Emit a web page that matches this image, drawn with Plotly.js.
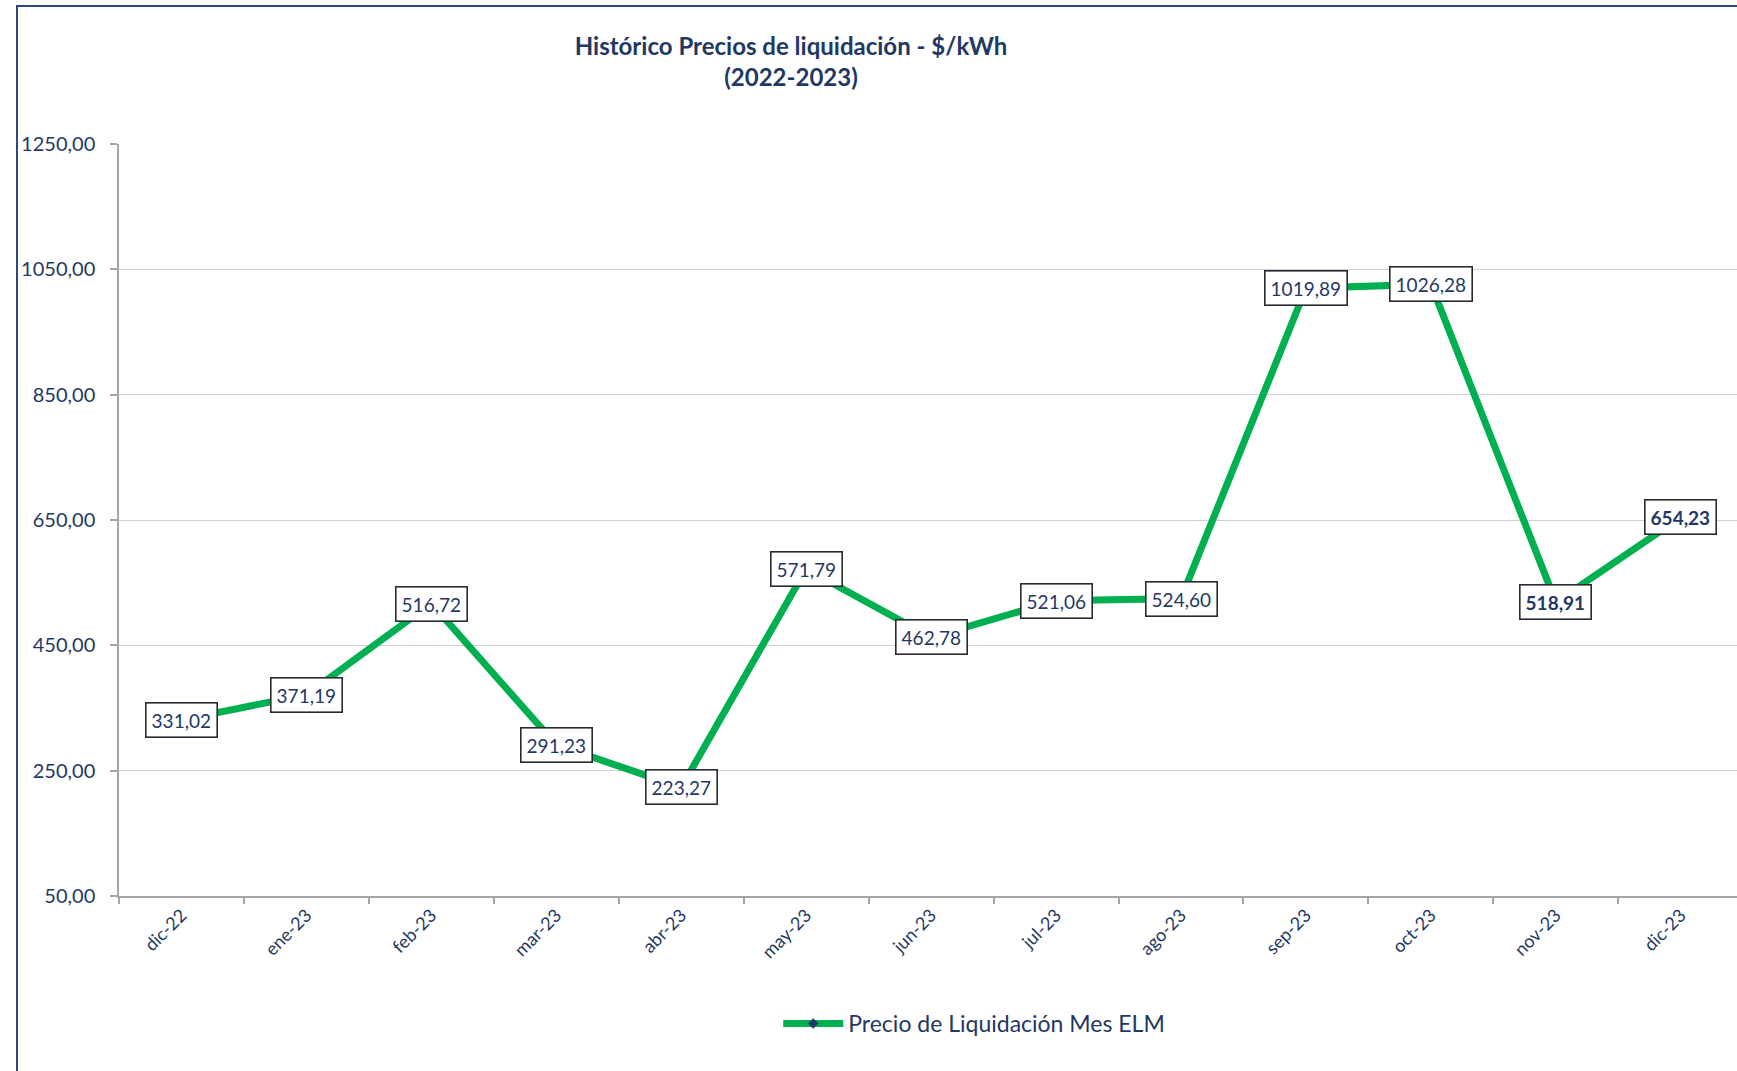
<!DOCTYPE html>
<html>
<head>
<meta charset="utf-8">
<script src="https://cdn.plot.ly/plotly-3.0.1.min.js"></script>
<style>
  html, body { margin: 0; padding: 0; background: #ffffff; }
  #wrap { position: relative; width: 1737px; height: 1071px; }
  #chart { position: absolute; left: 0; top: 0; width: 1737px; height: 1071px; }
  #frame { position: absolute; left: 16px; top: 5px; right: -4px; bottom: -4px;
           border-left: 2px solid #2E4A7D; border-top: 2px solid #2E4A7D; pointer-events: none; }
</style>
</head>
<body>
<div id="wrap">
  <div id="chart"></div>
  <div id="frame"></div>
</div>
<script>
const months = ["dic-22","ene-23","feb-23","mar-23","abr-23","may-23","jun-23",
                "jul-23","ago-23","sep-23","oct-23","nov-23","dic-23"];
const prices = [331.02, 371.19, 516.72, 291.23, 223.27, 571.79, 462.78,
                521.06, 524.60, 1019.89, 1026.28, 518.91, 654.23];
const boldLabels = [false,false,false,false,false,false,false,false,false,false,false,true,true];
const seriesName = "Precio de Liquidación Mes ELM";
const titleText = "Histórico Precios de liquidación - $/kWh<br>(2022-2023)";

const navy = "#1F3864";
const FONT = "Lato, 'Noto Sans', 'DejaVu Sans', sans-serif";

const trace = {
  x: months,
  y: prices,
  type: "scatter",
  mode: "lines+markers",
  name: seriesName,
  line: { color: "#00B050", width: 7 },
  marker: { symbol: "diamond", size: 8, color: navy },
  hoverinfo: "x+y"
};

const fmt = v => v.toFixed(2).replace(".", ",");
const annotations = months.map((m, i) => ({
  x: m, y: prices[i], xref: "x", yref: "y",
  text: boldLabels[i] ? "<b>" + fmt(prices[i]) + "</b>" : fmt(prices[i]),
  showarrow: false,
  xanchor: "center", yanchor: "middle",
  bgcolor: "#ffffff",
  bordercolor: "#262A33",
  borderwidth: 1.6,
  borderpad: 5,
  font: { family: FONT, size: 19, color: navy }
}));

const layout = {
  width: 1737, height: 1071,
  paper_bgcolor: "#ffffff", plot_bgcolor: "#ffffff",
  separators: ",.",
  margin: { l: 118.5, r: 0, t: 144, b: 175, pad: 0 },
  title: {
    text: titleText,
    font: { family: FONT, size: 24, color: navy, weight: "bold" },
    x: 791 / 1737, xref: "container", xanchor: "center",
    y: 1 - 55 / 1071, yref: "container", yanchor: "middle"
  },
  xaxis: {
    type: "category",
    range: [-0.5, 12.45],
    tickson: "boundaries",
    ticks: "outside", ticklen: 6, tickcolor: "#A6A6A6", tickwidth: 1.5,
    showline: true, linecolor: "#A6A6A6", linewidth: 1.5,
    showgrid: false, zeroline: false,
    tickangle: -45,
    tickfont: { family: FONT, size: 18, color: navy },
    fixedrange: true
  },
  yaxis: {
    range: [50, 1250],
    tick0: 50, dtick: 200,
    tickformat: ".2f",
    ticks: "outside", ticklen: 7, tickcolor: "#A6A6A6", tickwidth: 1.5,
    showline: true, linecolor: "#A6A6A6", linewidth: 1.5,
    showgrid: true, gridcolor: "#D0D0D0", gridwidth: 1.2,
    zeroline: false,
    ticklabelstandoff: 11,
    tickfont: { family: FONT, size: 20, color: navy },
    fixedrange: true
  },
  showlegend: true,
  legend: {
    orientation: "h",
    x: (974 - 118.5) / 1618.5, xanchor: "center",
    y: (896 - 1023.5) / 752, yanchor: "middle",
    itemwidth: 60,
    font: { family: FONT, size: 23, color: navy },
    bgcolor: "rgba(0,0,0,0)"
  },
  annotations: annotations
};

Plotly.newPlot("chart", [trace], layout, { displayModeBar: false, responsive: false });
</script>
</body>
</html>
